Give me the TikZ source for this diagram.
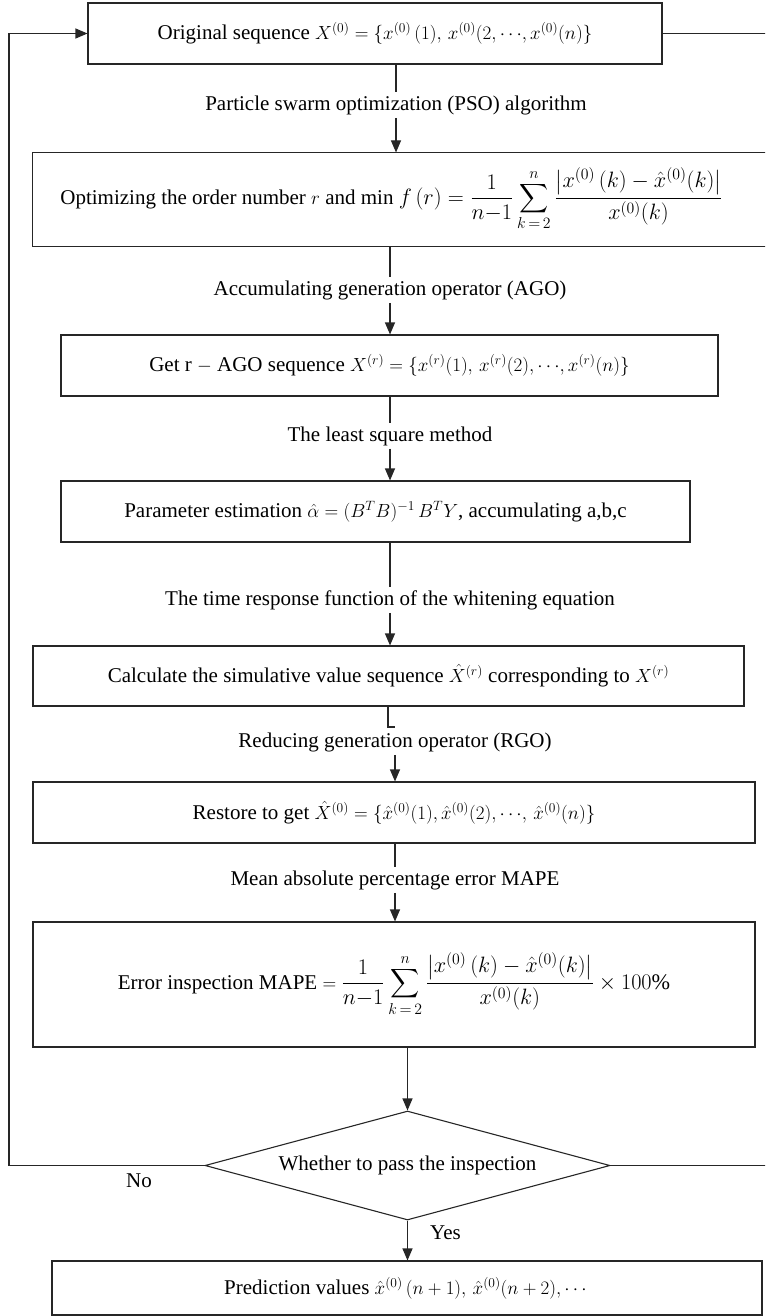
\documentclass[tikz,border=0pt]{standalone}
\usepackage{fix-cm}
\usepackage{amsmath}
\usepackage{graphicx}
\usepackage{fontspec}
\setmainfont{Liberation Serif}
\DeclareMathSizes{21}{19}{13.5}{10}
\usetikzlibrary{arrows.meta,shapes.geometric,calc}
\newcommand{\bigf}[1]{\scalebox{1.17}{$\displaystyle #1$}}
\tikzset{
  boxnode/.style={draw=black!85, line width=1.1pt, inner sep=0pt, align=center},
  lab/.style={inner sep=3pt, align=center},
  conn/.style={draw=black!85, line width=1.1pt},
  arr/.style={conn, -{Triangle[length=12pt,width=10pt]}},
}
\begin{document}
\begin{tikzpicture}[x=1pt,y=-1pt,font=\fontsize{21}{25}\selectfont]
\clip (0,0) rectangle (765,1316);
\useasboundingbox (0,0) rectangle (765,1316);

% boxes
\node[boxnode, minimum width=574pt, minimum height=61pt] (b1) at (375,33.5)
  {Original sequence $X^{(0)}=\{x^{(0)}\,(1),\,x^{(0)}(2,\cdots\!,x^{(0)}(n)\}$};
\node[boxnode, draw=none, minimum width=717pt, minimum height=93pt] (b2) at (391.5,199.5)
  {Optimizing the order number $r$ and min \bigf{f\,(r)=\frac{1}{n{-}1}\sum_{k\,=\,2}^{n}\frac{\bigl|x^{(0)}\,(k)-\hat{x}^{(0)}(k)\bigr|}{x^{(0)}(k)}}};
\draw[conn] ([xshift=40pt]b2.north east) -- (b2.north west) -- (b2.south west) -- ([xshift=40pt]b2.south east);
\node[boxnode, minimum width=657pt, minimum height=61pt] (b3) at (389.5,365.5)
  {Get r $-$ AGO sequence $X^{(r)}=\{x^{(r)}(1),\,x^{(r)}(2),\cdots\!,x^{(r)}(n)\}$};
\node[boxnode, minimum width=629pt, minimum height=61pt] (b4) at (375.5,511.5)
  {Parameter estimation $\hat{\alpha}=(B^T B)^{-1}\,B^T Y$, accumulating a,b,c};
\node[boxnode, minimum width=711pt, minimum height=60pt] (b5) at (388.5,676)
  {Calculate the simulative value sequence $\hat{X}^{(r)}$ corresponding to $X^{(r)}$};
\node[boxnode, minimum width=722pt, minimum height=61pt] (b6) at (394,812.5)
  {Restore to get $\hat{X}^{(0)}=\{\hat{x}^{(0)}(1),\hat{x}^{(0)}(2),\cdots\!,\,\hat{x}^{(0)}(n)\}$};
\node[boxnode, minimum width=722pt, minimum height=125pt] (b7) at (394,984.5)
  {Error inspection MAPE $=$\ \bigf{\frac{1}{n{-}1}\sum_{k\,=\,2}^{n}\frac{\bigl|x^{(0)}\,(k)-\hat{x}^{(0)}(k)\bigr|}{x^{(0)}(k)}\times 100\%}};
\node[boxnode, diamond, aspect=3.7, minimum width=405pt, minimum height=109pt] (d) at (407.5,1165.5)
  {Whether to pass the inspection};
\node[boxnode, minimum width=710pt, minimum height=54pt] (b8) at (407,1288)
  {Prediction values $\hat{x}^{(0)}\,(n+1),\,\hat{x}^{(0)}(n+2),\cdots$};

% labels
\node[lab] (l1) at (396,105) {Particle swarm optimization (PSO) algorithm};
\node[lab] (l2) at (390,290) {Accumulating generation operator (AGO)};
\node[lab] (l3) at (390,436) {The least square method};
\node[lab] (l4) at (390,600) {The time response function of the whitening equation};
\node[lab] (l5) at (395,742) {Reducing generation operator (RGO)};
\node[lab] (l6) at (395,880) {Mean absolute percentage error MAPE};
\node[lab, anchor=west] (yes) at (427,1233) {Yes};
\node[lab] (no) at (139,1181) {No};

% connectors
\draw[conn] (b1.south -| l1) -- (l1.north);
\draw[arr] (l1.south) -- (b2.north -| l1);
\draw[conn] (b2.south -| l2) -- (l2.north);
\draw[arr] (l2.south) -- (b3.north -| l2);
\draw[conn] (b3.south -| l3) -- (l3.north);
\draw[arr] (l3.south) -- (b4.north -| l3);
\draw[conn] (b4.south -| l4) -- (l4.north);
\draw[arr] (l4.south) -- (b5.north -| l4);
\coordinate (tick) at (395,727);
\draw[conn] (b5.south -| 388,0) |- (tick);
\draw[arr] (l5.south) -- (b6.north -| l5);
\draw[conn] (b6.south -| l6) -- (l6.north);
\draw[arr] (l6.south) -- (b7.north -| l6);
\draw[arr] (b7.south -| d) -- (d.north);
\draw[arr] (d.south) -- (b8.north -| d);

% loops
\coordinate (lb) at (9,1165.5);
\coordinate (lt) at (9,33.5);
\coordinate (rt) at (766,33.5);
\coordinate (rb) at (766,1165.5);
\draw[arr] (d.west) -- (lb) -- (lt) -- (b1.west);
\draw[conn] (b1.east) -- (rt);
\draw[conn] (d.east) -- (rb);
\end{tikzpicture}
\end{document}
